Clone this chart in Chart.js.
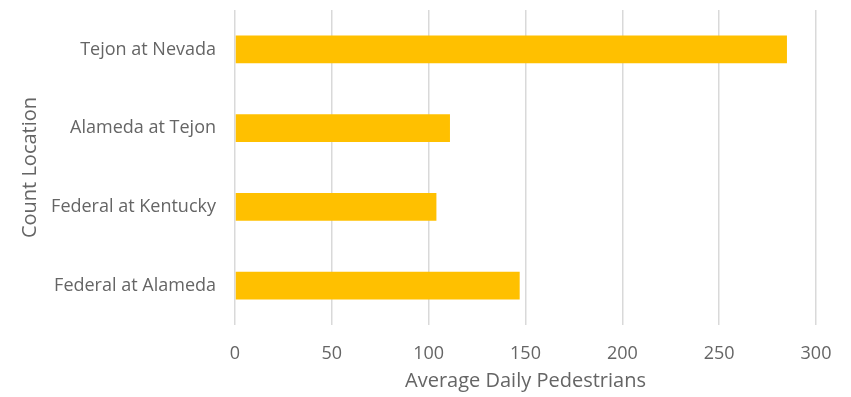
<!DOCTYPE html>
<html>
<head>
<meta charset="utf-8">
<script src="https://cdn.jsdelivr.net/npm/chart.js@4/dist/chart.umd.min.js"></script>
<style>
  html, body { margin: 0; padding: 0; background: #fff; }
  #wrap { width: 851px; height: 397px; position: relative; }
</style>
</head>
<body>
<div id="wrap"><canvas id="chart"></canvas></div>
<script>
// Average daily pedestrian counts per count location
const locations = ['Tejon at Nevada', 'Alameda at Tejon', 'Federal at Kentucky', 'Federal at Alameda'];
const pedestrians = [285, 111, 104, 147];
const xTicks = [0, 50, 100, 150, 200, 250, 300];

const FONT = '"Open Sans", Lato, sans-serif';
const GREY = '#656565';

new Chart(document.getElementById('chart'), {
  type: 'bar',
  data: {
    labels: locations,
    datasets: [{
      data: pedestrians,
      backgroundColor: '#FFC000',
      borderWidth: 0,
      barPercentage: 0.35,
      categoryPercentage: 1
    }]
  },
  options: {
    indexAxis: 'y',
    responsive: true,
    maintainAspectRatio: false,
    animation: false,
    layout: { padding: { top: 10, right: 35, bottom: 0, left: 14 } },
    plugins: { legend: { display: false }, tooltip: { enabled: false } },
    scales: {
      x: {
        min: 0, max: 300,
        afterBuildTicks: s => { s.ticks = xTicks.map(v => ({ value: v })); },
        afterFit: s => { s.height = 72; },
        grid: { color: '#d9d9d9', lineWidth: 1.5, drawTicks: false },
        border: { display: false },
        ticks: { color: GREY, font: { family: FONT, size: 18 }, padding: 18 },
        title: {
          display: true, text: 'Average Daily Pedestrians',
          color: GREY, font: { family: FONT, size: 20 }, padding: { top: 0 }
        }
      },
      y: {
        afterFit: s => { s.width = 221; },
        // invisible tick marks give the gap between labels and plot
        // (tick padding would also push the plot down from the top)
        grid: { drawOnChartArea: false, drawTicks: true, tickLength: 18, tickColor: 'rgba(0,0,0,0)', color: 'rgba(0,0,0,0)' },
        border: { display: false },
        ticks: { color: GREY, font: { family: FONT, size: 18, lineHeight: 0.1 }, padding: 1 },
        title: {
          display: true, text: 'Count Location',
          color: GREY, font: { family: FONT, size: 20 }, padding: { bottom: 0 }
        }
      }
    }
  }
});
</script>
</body>
</html>
